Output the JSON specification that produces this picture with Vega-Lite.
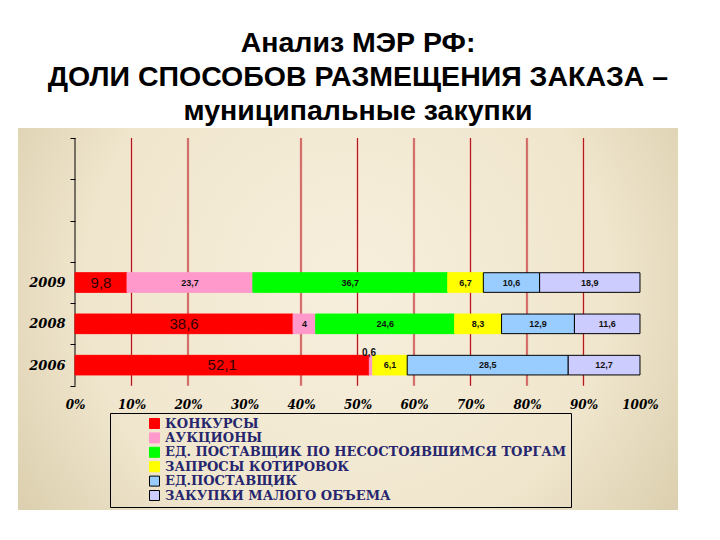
{
  "$schema": "https://vega.github.io/schema/vega-lite/v6.json",
  "autosize": {"type": "none"},
  "width": 660,
  "height": 382,
  "padding": {"left": 18, "top": 128, "right": 42, "bottom": 30},
  "background": "white",
  "title": {
    "text": ["Анализ МЭР РФ:", "ДОЛИ СПОСОБОВ РАЗМЕЩЕНИЯ ЗАКАЗА –", "муниципальные закупки"],
    "font": "Liberation Sans",
    "fontSize": 28.5,
    "fontWeight": "bold",
    "color": "black",
    "lineHeight": 34,
    "anchor": "middle",
    "dx": 10,
    "offset": -3
  },
  "config": {
    "view": {
      "stroke": null,
      "fill": {
        "gradient": "radial",
        "x1": 0.5, "y1": 0.45, "r1": 0,
        "x2": 0.5, "y2": 0.45, "r2": 0.72,
        "stops": [
          {"offset": 0, "color": "#F7EFDD"},
          {"offset": 0.55, "color": "#F0E6CD"},
          {"offset": 1, "color": "#CFC29D"}
        ]
      }
    },
    "legend": {
      "orient": "none",
      "legendX": 92,
      "legendY": 285,
      "strokeColor": "black",
      "strokeWidth": 1,
      "padding": 4,
      "symbolType": "square",
      "symbolSize": 100,
      "symbolStrokeWidth": 1,
      "symbolOffset": 34,
      "labelFont": "DejaVu Serif",
      "labelFontWeight": "bold",
      "labelFontSize": 13,
      "labelColor": "#26266E",
      "labelOffset": 4,
      "labelLimit": 0,
      "rowPadding": -0.6,
      "labelExpr": "datum.label + '       '"
    }
  },
  "datasets": {
    "shares": [
      {"year": "2009", "k": 1, "method": "КОНКУРСЫ", "value": 9.8},
      {"year": "2009", "k": 2, "method": "АУКЦИОНЫ", "value": 23.7},
      {"year": "2009", "k": 3, "method": "ЕД. ПОСТАВЩИК ПО НЕСОСТОЯВШИМСЯ ТОРГАМ", "value": 36.7},
      {"year": "2009", "k": 4, "method": "ЗАПРОСЫ КОТИРОВОК", "value": 6.7},
      {"year": "2009", "k": 5, "method": "ЕД.ПОСТАВЩИК", "value": 10.6},
      {"year": "2009", "k": 6, "method": "ЗАКУПКИ МАЛОГО ОБЪЕМА", "value": 18.9},
      {"year": "2008", "k": 1, "method": "КОНКУРСЫ", "value": 38.6},
      {"year": "2008", "k": 2, "method": "АУКЦИОНЫ", "value": 4},
      {"year": "2008", "k": 3, "method": "ЕД. ПОСТАВЩИК ПО НЕСОСТОЯВШИМСЯ ТОРГАМ", "value": 24.6},
      {"year": "2008", "k": 4, "method": "ЗАПРОСЫ КОТИРОВОК", "value": 8.3},
      {"year": "2008", "k": 5, "method": "ЕД.ПОСТАВЩИК", "value": 12.9},
      {"year": "2008", "k": 6, "method": "ЗАКУПКИ МАЛОГО ОБЪЕМА", "value": 11.6},
      {"year": "2006", "k": 1, "method": "КОНКУРСЫ", "value": 52.1},
      {"year": "2006", "k": 2, "method": "АУКЦИОНЫ", "value": 0.6},
      {"year": "2006", "k": 4, "method": "ЗАПРОСЫ КОТИРОВОК", "value": 6.1},
      {"year": "2006", "k": 5, "method": "ЕД.ПОСТАВЩИК", "value": 28.5},
      {"year": "2006", "k": 6, "method": "ЗАКУПКИ МАЛОГО ОБЪЕМА", "value": 12.7}
    ],
    "grid": [
      {"g": 0.1}, {"g": 0.2}, {"g": 0.4}, {"g": 0.5}, {"g": 0.6}, {"g": 0.7}, {"g": 0.8}, {"g": 0.9}
    ]
  },
  "layer": [
    {
      "data": {"name": "grid"},
      "mark": {"type": "rule", "color": "#F2A0A0", "strokeWidth": 3, "opacity": 0.45},
      "encoding": {
        "x": {"field": "g", "type": "quantitative", "title": null,
              "scale": {"domain": [-0.1009, 1.0673], "nice": false, "zero": false}},
        "y": {"datum": "_1", "type": "nominal", "bandPosition": 0, "title": null,
              "scale": {"domain": ["_1", "_2", "_3", "2009", "2008", "2006", "_4", "_5", "_6"], "paddingInner": 0, "paddingOuter": 0.1247, "align": 0.97, "round": false}},
        "y2": {"datum": "2006", "bandPosition": 1}
      }
    },
    {
      "data": {"name": "grid"},
      "mark": {"type": "rule", "color": "#B01818", "strokeWidth": 1},
      "encoding": {
        "x": {"field": "g", "type": "quantitative", "title": null,
              "scale": {"domain": [-0.1009, 1.0673], "nice": false, "zero": false}},
        "y": {"datum": "_1", "type": "nominal", "bandPosition": 0, "title": null,
              "scale": {"domain": ["_1", "_2", "_3", "2009", "2008", "2006", "_4", "_5", "_6"], "paddingInner": 0, "paddingOuter": 0.1247, "align": 0.97, "round": false}},
        "y2": {"datum": "2006", "bandPosition": 1}
      }
    },
    {
      "data": {"values": [{}]},
      "mark": {"type": "rule", "color": "black", "strokeWidth": 1},
      "encoding": {
        "x": {"datum": 0, "type": "quantitative", "title": null,
              "scale": {"domain": [-0.1009, 1.0673], "nice": false, "zero": false}},
        "y": {"datum": "_1", "type": "nominal", "bandPosition": 0, "title": null,
              "scale": {"domain": ["_1", "_2", "_3", "2009", "2008", "2006", "_4", "_5", "_6"], "paddingInner": 0, "paddingOuter": 0.1247, "align": 0.97, "round": false}},
        "y2": {"datum": "2006", "bandPosition": 1}
      }
    },
    {
      "data": {"name": "shares"},
      "transform": [
        {"stack": "value", "groupby": ["year"], "sort": [{"field": "k", "order": "ascending"}], "offset": "normalize", "as": ["x0", "x1"]},
        {"calculate": "(datum.x0 + datum.x1) / 2", "as": "xm"},
        {"calculate": "replace(format(datum.value, '~g'), '.', ',')", "as": "label"}
      ],
      "layer": [
        {
          "mark": {"type": "bar", "strokeWidth": 1, "height": {"band": 0.475}},
          "encoding": {
            "x": {"field": "x0", "type": "quantitative", "title": null,
                  "scale": {"domain": [-0.1009, 1.0673], "nice": false, "zero": false},
                  "axis": {"orient": "bottom", "offset": -111, "values": [0, 0.1, 0.2, 0.3, 0.4, 0.5, 0.6, 0.7, 0.8, 0.9, 1],
                           "format": ".0%", "title": null, "domain": false, "grid": false, "ticks": false, "tickSize": 0,
                           "labelPadding": 0, "labelFont": "DejaVu Serif", "labelFontWeight": "bold", "labelFontStyle": "italic",
                           "labelFontSize": 12, "labelColor": "black", "labelFlush": false, "labelOverlap": false}},
            "x2": {"field": "x1"},
            "y": {"field": "year", "type": "nominal", "title": null,
                  "scale": {"domain": ["_1", "_2", "_3", "2009", "2008", "2006", "_4", "_5", "_6"], "paddingInner": 0, "paddingOuter": 0.1247, "align": 0.97, "round": false},
                  "axis": {"orient": "left", "offset": -57, "title": null, "domain": false, "grid": false, "ticks": true,
                           "tickBand": "extent", "tickSize": 5, "tickColor": "black", "tickWidth": 1,
                           "tickOpacity": {"condition": {"test": "datum.value == '_4' || datum.value == '_5' || datum.value == '_6'", "value": 0}, "value": 1},
                           "labelExpr": "length(datum.label) == 4 ? datum.label : ''",
                           "labelFont": "DejaVu Serif", "labelFontWeight": "bold", "labelFontStyle": "italic",
                           "labelFontSize": 13, "labelColor": "black", "labelPadding": 5}},
            "color": {"field": "method", "type": "nominal", "title": null,
                      "scale": {"domain": ["КОНКУРСЫ", "АУКЦИОНЫ", "ЕД. ПОСТАВЩИК ПО НЕСОСТОЯВШИМСЯ ТОРГАМ", "ЗАПРОСЫ КОТИРОВОК", "ЕД.ПОСТАВЩИК", "ЗАКУПКИ МАЛОГО ОБЪЕМА"],
                                "range": ["#FF0000", "#FF99CC", "#00FF00", "#FFFF00", "#99CCFF", "#CCCCFF"]}},
            "stroke": {"field": "method", "type": "nominal", "title": null,
                       "scale": {"domain": ["КОНКУРСЫ", "АУКЦИОНЫ", "ЕД. ПОСТАВЩИК ПО НЕСОСТОЯВШИМСЯ ТОРГАМ", "ЗАПРОСЫ КОТИРОВОК", "ЕД.ПОСТАВЩИК", "ЗАКУПКИ МАЛОГО ОБЪЕМА"],
                                 "range": ["#FF0000", "#FF99CC", "#00FF00", "#FFFF00", "#000000", "#000000"]}}
          }
        },
        {
          "transform": [{"filter": "datum.k == 1"}],
          "mark": {"type": "text", "font": "Liberation Sans", "fontSize": 15, "color": "#300000"},
          "encoding": {
            "x": {"field": "xm", "type": "quantitative", "title": null,
                  "scale": {"domain": [-0.1009, 1.0673], "nice": false, "zero": false}},
            "y": {"field": "year", "type": "nominal", "title": null,
                  "scale": {"domain": ["_1", "_2", "_3", "2009", "2008", "2006", "_4", "_5", "_6"], "paddingInner": 0, "paddingOuter": 0.1247, "align": 0.97, "round": false}},
            "text": {"field": "label"}
          }
        },
        {
          "transform": [{"filter": "datum.k > 1 && datum.value >= 1"}],
          "mark": {"type": "text", "font": "Liberation Sans", "fontSize": 9, "fontWeight": "bold", "color": "#111111"},
          "encoding": {
            "x": {"field": "xm", "type": "quantitative", "title": null,
                  "scale": {"domain": [-0.1009, 1.0673], "nice": false, "zero": false}},
            "y": {"field": "year", "type": "nominal", "title": null,
                  "scale": {"domain": ["_1", "_2", "_3", "2009", "2008", "2006", "_4", "_5", "_6"], "paddingInner": 0, "paddingOuter": 0.1247, "align": 0.97, "round": false}},
            "text": {"field": "label"}
          }
        },
        {
          "transform": [{"filter": "datum.value < 1"}],
          "mark": {"type": "text", "font": "Liberation Sans", "fontSize": 10, "fontWeight": "bold", "color": "#111111", "dy": -12, "dx": -2},
          "encoding": {
            "x": {"field": "xm", "type": "quantitative", "title": null,
                  "scale": {"domain": [-0.1009, 1.0673], "nice": false, "zero": false}},
            "y": {"field": "year", "type": "nominal", "title": null,
                  "scale": {"domain": ["_1", "_2", "_3", "2009", "2008", "2006", "_4", "_5", "_6"], "paddingInner": 0, "paddingOuter": 0.1247, "align": 0.97, "round": false}},
            "text": {"field": "label"}
          }
        }
      ]
    }
  ]
}
